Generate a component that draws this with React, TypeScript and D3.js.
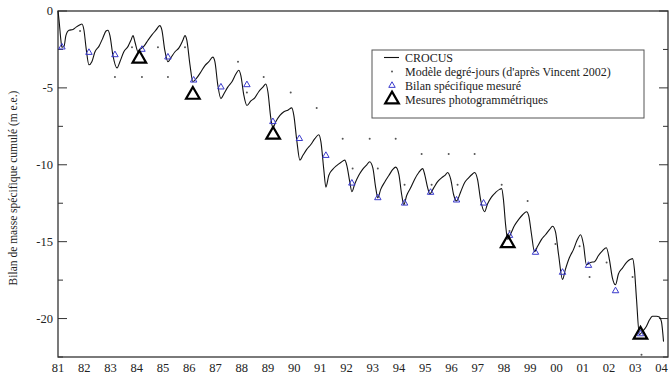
import { scaleLinear, line, symbol, symbolTriangle, range, curveMonotoneX } from "d3";

const width = 672;
const height = 374;
const left = 58;
const right = 668;
const top = 11;
const bottom = 357;

// CROCUS simulation: [year (100 = 2000), cumulative balance m w.e.]
const crocus: Array<[number, number]> = [
  [81.0, 0], [81.04, -0.6], [81.11, -1.9], [81.15, -2.35], [81.23, -2.3], [81.3, -1.6],
  [81.42, -1.25], [81.57, -1.2], [81.69, -1.05], [81.84, -0.9], [81.91, -0.85], [81.99, -1.25],
  [82.07, -2.4], [82.18, -3.5], [82.29, -3.3], [82.41, -2.65], [82.56, -2.3], [82.71, -1.75],
  [82.83, -1.3], [82.9, -1.25], [82.98, -1.6], [83.09, -2.85], [83.25, -3.7], [83.36, -3.3],
  [83.51, -2.65], [83.67, -2.3], [83.78, -1.9], [83.86, -1.6], [83.93, -2.0], [84.05, -2.65],
  [84.12, -2.5], [84.27, -2.3], [84.43, -1.9], [84.58, -1.55], [84.73, -1.25], [84.88, -0.95],
  [84.96, -1.25], [85.07, -2.55], [85.19, -3.3], [85.3, -3.05], [85.46, -2.65], [85.61, -2.4],
  [85.76, -1.9], [85.84, -1.6], [85.91, -1.9], [86.03, -3.5], [86.14, -4.6], [86.29, -4.35],
  [86.45, -3.95], [86.6, -3.55], [86.75, -3.3], [86.9, -3.0], [86.98, -3.3], [87.09, -4.8],
  [87.21, -5.7], [87.32, -5.4], [87.47, -4.95], [87.63, -4.6], [87.78, -4.1], [87.89, -3.85],
  [87.97, -4.2], [88.08, -5.45], [88.2, -6.15], [88.35, -5.85], [88.5, -5.65], [88.65, -5.25],
  [88.81, -4.95], [88.92, -4.75], [89.0, -5.25], [89.11, -6.95], [89.19, -7.6], [89.3, -7.2],
  [89.45, -6.8], [89.61, -6.55], [89.76, -6.45], [89.91, -6.3], [89.99, -6.8], [90.1, -8.4],
  [90.22, -9.7], [90.33, -9.4], [90.48, -9.0], [90.63, -8.7], [90.79, -8.3], [90.94, -8.05],
  [91.02, -8.5], [91.13, -10.3], [91.21, -11.45], [91.32, -10.7], [91.47, -10.3], [91.62, -10.05],
  [91.78, -9.85], [91.93, -9.7], [92.01, -10.05], [92.12, -11.1], [92.2, -11.75], [92.31, -11.25],
  [92.46, -10.7], [92.61, -10.3], [92.77, -10.0], [92.88, -9.8], [93.0, -10.2], [93.11, -11.5],
  [93.19, -12.15], [93.3, -11.6], [93.46, -11.1], [93.61, -10.7], [93.76, -10.3], [93.87, -10.15],
  [93.99, -10.6], [94.1, -11.95], [94.18, -12.6], [94.29, -12.0], [94.44, -11.5], [94.59, -10.95],
  [94.75, -10.5], [94.9, -10.25], [94.98, -10.65], [95.09, -11.5], [95.17, -11.9], [95.32, -11.5],
  [95.47, -11.1], [95.62, -10.85], [95.77, -10.65], [95.85, -10.5], [95.97, -10.95], [96.08, -11.95],
  [96.19, -12.35], [96.35, -11.75], [96.5, -11.15], [96.65, -10.85], [96.8, -10.6], [96.88, -10.5],
  [96.99, -10.95], [97.11, -12.3], [97.26, -13.05], [97.37, -12.55], [97.52, -12.1], [97.68, -11.8],
  [97.83, -11.6], [97.91, -11.55], [97.98, -12.3], [98.06, -13.9], [98.14, -14.85], [98.25, -14.5],
  [98.4, -13.95], [98.56, -13.55], [98.71, -13.25], [98.86, -13.05], [98.94, -13.3], [99.05, -14.55],
  [99.16, -15.65], [99.28, -15.3], [99.43, -14.85], [99.58, -14.55], [99.74, -14.2], [99.85, -14.0],
  [99.96, -14.35], [100.08, -15.85], [100.23, -17.45], [100.34, -16.8], [100.49, -16.05], [100.65, -15.5],
  [100.8, -14.85], [100.92, -14.55], [101.03, -15.2], [101.14, -16.5], [101.3, -16.35], [101.45, -16.3],
  [101.6, -15.9], [101.75, -15.6], [101.9, -15.4], [102.02, -16.2], [102.13, -17.35], [102.25, -17.8],
  [102.36, -17.1], [102.52, -16.7], [102.67, -16.35], [102.82, -16.15], [102.9, -16.1], [102.97, -16.8],
  [103.05, -18.75], [103.16, -21.05], [103.27, -20.85], [103.43, -20.5], [103.54, -20.1], [103.66, -19.85],
  [103.81, -19.85], [103.92, -19.9], [104.0, -20.2], [104.08, -21.5],
];

// degree-day model (Vincent 2002)
const degreeDay: Array<[number, number]> = [
  [81.84, -1.3], [83.17, -4.3], [83.82, -2.35], [84.2, -4.3], [84.81, -2.35], [85.19, -4.3],
  [85.84, -2.35], [87.86, -3.3], [88.2, -5.3], [88.84, -4.3], [89.87, -5.3], [90.86, -6.3],
  [91.85, -8.3], [92.23, -10.25], [92.88, -8.3], [93.19, -10.25], [93.87, -8.3], [94.21, -11.3],
  [94.86, -9.3], [95.24, -11.3], [95.89, -9.3], [96.23, -11.3], [96.88, -9.3], [97.91, -11.3],
  [98.21, -14.3], [98.9, -12.35], [99.96, -15.15], [100.88, -15.3], [101.26, -17.3], [101.91, -16.35],
  [102.9, -17.3], [103.24, -22.35],
];

// measured specific balance
const measured: Array<[number, number]> = [
  [81.15, -2.35], [82.18, -2.7], [83.17, -2.85], [84.2, -2.5], [85.19, -3.0], [86.17, -4.5],
  [87.21, -4.95], [88.2, -4.8], [89.19, -7.2], [90.2, -8.3], [91.21, -9.4], [92.2, -11.2],
  [93.19, -12.15], [94.21, -12.5], [95.2, -11.8], [96.19, -12.3], [97.22, -12.5], [98.21, -14.6],
  [99.2, -15.7], [100.23, -17.0], [101.22, -16.55], [102.25, -18.2], [103.2, -21.0],
];

// photogrammetric measurements
const photo: Array<[number, number]> = [
  [84.1, -3.1], [86.14, -5.45], [89.2, -8.05], [98.14, -15.1], [103.2, -21.05],
];

const yearTicks = range(81, 105);
const yMajor = [0, -5, -10, -15, -20];
const yMinor = [-2.5, -7.5, -12.5, -17.5, -22.5];

const legendItems = [
  "CROCUS",
  "Modèle degré-jours (d'après Vincent 2002)",
  "Bilan spécifique mesuré",
  "Mesures photogrammétriques",
];

const font = "'Liberation Serif', 'DejaVu Serif', serif";

export default function App() {
  const x = scaleLinear().domain([81, 104.25]).range([left, right]);
  const y = scaleLinear().domain([0, -22.5]).range([top, bottom]);

  const path = line<[number, number]>()
    .x((d) => x(d[0]))
    .y((d) => y(d[1]))
    .curve(curveMonotoneX)(crocus);

  const smallTri = symbol(symbolTriangle, 18)() ?? "";
  const bigTri = symbol(symbolTriangle, 80)() ?? "";

  const lx = 392;
  const ly = [57.5, 71.5, 85.5, 99.5];

  return (
    <svg
      width={width}
      height={height}
      style={{ position: "absolute", left: 0, top: 0, background: "white" }}
      fontFamily={font}
    >
      <rect x={0} y={0} width={width} height={height} fill="white" />

      {/* frame */}
      <rect
        x={left}
        y={top}
        width={right - left}
        height={bottom - top}
        fill="none"
        stroke="#333"
        strokeWidth={1.3}
      />

      {/* y ticks, both sides, inward */}
      {yMajor.map((v) => (
        <g key={`M${v}`}>
          <line x1={left} x2={left + 9} y1={y(v)} y2={y(v)} stroke="#333" />
          <line x1={right} x2={right - 9} y1={y(v)} y2={y(v)} stroke="#333" />
          <text x={53} y={y(v) + 4} textAnchor="end" fontSize={12.5} fill="#222">
            {v === 0 ? "0" : `-${Math.abs(v)}`}
          </text>
        </g>
      ))}
      {yMinor.map((v) => (
        <g key={`m${v}`}>
          <line x1={left} x2={left + 5} y1={y(v)} y2={y(v)} stroke="#333" />
          <line x1={right} x2={right - 5} y1={y(v)} y2={y(v)} stroke="#333" />
        </g>
      ))}

      {/* x tick labels */}
      {yearTicks.map((t) => (
        <text key={t} x={x(t)} y={372} textAnchor="middle" fontSize={12.5} fill="#222">
          {String(t % 100).padStart(2, "0")}
        </text>
      ))}

      <text
        transform={`translate(17, 188) rotate(-90)`}
        textAnchor="middle"
        fontSize={11.5}
        fill="#222"
      >
        Bilan de masse spécifique cumulé (m e.e.)
      </text>

      {/* degree-day dots */}
      {degreeDay.map((d, i) => (
        <circle key={i} cx={x(d[0])} cy={y(d[1])} r={1} fill="#555" />
      ))}

      {path && <path d={path} fill="none" stroke="#111" strokeWidth={1.1} />}

      {measured.map((d, i) => (
        <path
          key={i}
          d={smallTri}
          transform={`translate(${x(d[0])}, ${y(d[1])})`}
          fill="none"
          stroke="#3a3acc"
          strokeWidth={1}
        />
      ))}

      {photo.map((d, i) => (
        <path
          key={i}
          d={bigTri}
          transform={`translate(${x(d[0])}, ${y(d[1])})`}
          fill="none"
          stroke="#000"
          strokeWidth={2.2}
        />
      ))}

      {/* legend */}
      <rect x={372} y={50} width={272} height={68} fill="white" stroke="#555" strokeWidth={1} />
      <line x1={384} x2={399} y1={ly[0]} y2={ly[0]} stroke="#111" strokeWidth={1.1} />
      <circle cx={lx} cy={ly[1]} r={1} fill="#555" />
      <path d={smallTri} transform={`translate(${lx}, ${ly[2]})`} fill="none" stroke="#3a3acc" />
      <path
        d={bigTri}
        transform={`translate(${lx}, ${ly[3]})`}
        fill="none"
        stroke="#000"
        strokeWidth={2.2}
      />
      {legendItems.map((s, i) => (
        <text key={s} x={405} y={ly[i] + 4} fontSize={12} fill="#222">
          {s}
        </text>
      ))}
    </svg>
  );
}
